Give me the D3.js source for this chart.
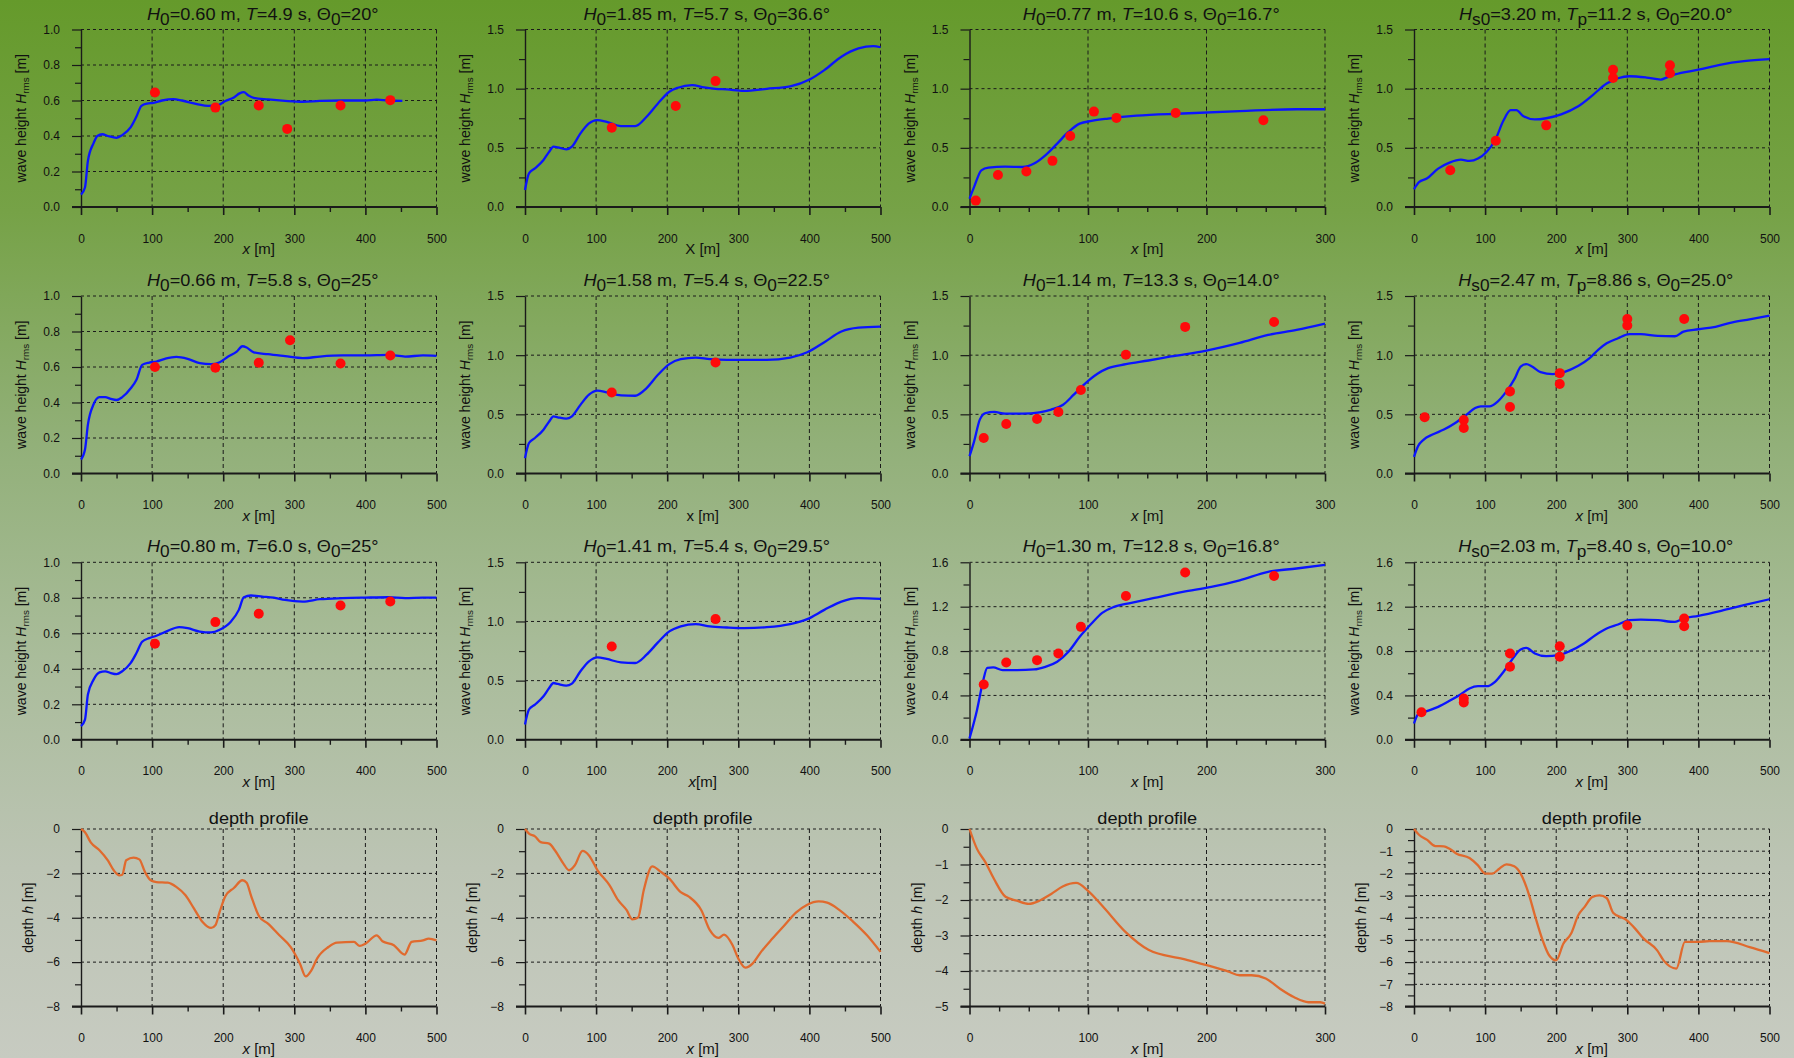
<!DOCTYPE html>
<html><head><meta charset="utf-8">
<script src="https://cdn.jsdelivr.net/npm/d3@7"></script>
<style>
body{margin:0;overflow:hidden;background:#fff}
svg text{font-family:"Liberation Sans",Arial,Helvetica,sans-serif;fill:#111}
</style>
</head><body>
<svg id="chart" width="1794" height="1058"></svg>
<script>
// ---------------- DATA ----------------
const titles = [
  "*H*_0_=0.60 m, *T*=4.9 s, Θ_0_=20°",
  "*H*_0_=1.85 m, *T*=5.7 s, Θ_0_=36.6°",
  "*H*_0_=0.77 m, *T*=10.6 s, Θ_0_=16.7°",
  "*H*_s0_=3.20 m, *T*_p_=11.2 s, Θ_0_=20.0°",
  "*H*_0_=0.66 m, *T*=5.8 s, Θ_0_=25°",
  "*H*_0_=1.58 m, *T*=5.4 s, Θ_0_=22.5°",
  "*H*_0_=1.14 m, *T*=13.3 s, Θ_0_=14.0°",
  "*H*_s0_=2.47 m, *T*_p_=8.86 s, Θ_0_=25.0°",
  "*H*_0_=0.80 m, *T*=6.0 s, Θ_0_=25°",
  "*H*_0_=1.41 m, *T*=5.4 s, Θ_0_=29.5°",
  "*H*_0_=1.30 m, *T*=12.8 s, Θ_0_=16.8°",
  "*H*_s0_=2.03 m, *T*_p_=8.40 s, Θ_0_=10.0°",
  "depth profile","depth profile","depth profile","depth profile"
];
const xLabels = ["*x* [m]","X [m]","*x* [m]","*x* [m]",
                 "*x* [m]","x [m]","*x* [m]","*x* [m]",
                 "*x* [m]","*x*[m]","*x* [m]","*x* [m]",
                 "*x* [m]","*x* [m]","*x* [m]","*x* [m]"];
const waveYLabel = "wave height *H*_rms_ [m]";
const depthYLabel = "depth  *h* [m]";

const xMax = [500,500,300,500, 500,500,300,500, 500,500,300,500, 500,500,300,500];
const yMax = [1.0,1.5,1.5,1.5, 1.0,1.5,1.5,1.5, 1.0,1.5,1.6,1.6];
const depthMin = [-8,-8,-5,-8];

const xTicks500 = [0,100,200,300,400,500];
const xTicks300 = [0,100,200,300];
const yTicks10 = [0,0.2,0.4,0.6,0.8,1.0];
const yTicks15 = [0,0.5,1.0,1.5];
const yTicks16 = [0,0.4,0.8,1.2,1.6];
const dTicks8 = [0,-2,-4,-6,-8];
const dTicks5 = [0,-1,-2,-3,-4,-5];
const dTicks8b = [0,-1,-2,-3,-4,-5,-6,-7,-8];

const hLine1 = [[0,0.07],[5.6,0.11],[9.7,0.26],[17.7,0.36],[23,0.40],[30,0.41],[38,0.40],[50,0.39],[58,0.405],[70,0.45],[78,0.51],[85,0.57],[93,0.583],[102,0.587],[114,0.60],[130,0.608],[142,0.60],[163,0.58],[179,0.57],[191,0.572],[203,0.597],[215,0.617],[223,0.64],[229,0.647],[235,0.63],[243,0.615],[263,0.606],[287,0.598],[312,0.593],[336,0.598],[368,0.60],[400,0.60],[416,0.605],[432,0.60],[452,0.598]];
const hObs1 = [[104,0.645],[189,0.56],[250,0.572],[290,0.44],[365,0.572],[435,0.602]];

const hLine2 = [[0,0.143],[5.6,0.284],[14,0.326],[26,0.397],[34,0.467],[40,0.51],[46,0.504],[58,0.487],[66,0.51],[78,0.622],[90,0.706],[101,0.735],[115,0.72],[135,0.684],[155,0.684],[171,0.763],[187,0.875],[203,0.974],[215,1.008],[235,1.03],[252,1.01],[268,0.999],[284,0.994],[308,0.982],[340,0.999],[373,1.02],[401,1.08],[421,1.157],[445,1.27],[469,1.34],[490,1.36],[500,1.35]];
const hObs2 = [[122,0.67],[212,0.853],[268,1.064]];

const hLine3 = [[0,0.07],[3.9,0.17],[10,0.31],[16,0.333],[30,0.341],[45,0.338],[54.5,0.367],[64,0.437],[74,0.536],[83.5,0.634],[93,0.705],[103,0.727],[117,0.747],[141,0.772],[180,0.79],[228,0.81],[276,0.826],[300,0.826]];
const hObs3 = [[5.3,0.054],[24,0.27],[48,0.30],[70,0.39],[85,0.60],[105,0.806],[124,0.753],[174,0.795],[248,0.733]];

const hLine4 = [[0,0.15],[7,0.21],[18,0.24],[34,0.324],[50,0.375],[66,0.40],[78,0.389],[90,0.409],[102,0.465],[114,0.564],[126,0.733],[136,0.818],[144,0.818],[154,0.767],[170,0.74],[186,0.75],[207,0.783],[231,0.851],[251,0.944],[271,1.043],[287,1.088],[303,1.105],[327,1.094],[347,1.077],[355,1.094],[367,1.12],[400,1.16],[432,1.204],[464,1.232],[500,1.249]];
const hObs4 = [[51,0.31],[115,0.56],[186,0.69],[280,1.16],[280,1.09],[360,1.198],[360,1.13]];

const hLine5 = [[0,0.079],[5.6,0.135],[9.7,0.275],[17.7,0.39],[26,0.43],[34,0.43],[42,0.42],[50,0.414],[58,0.43],[70,0.48],[78,0.528],[86,0.612],[96,0.625],[106,0.631],[118,0.646],[134,0.657],[150,0.646],[167,0.622],[183,0.616],[195,0.627],[207,0.659],[219,0.687],[227,0.717],[233,0.71],[243,0.683],[263,0.672],[287,0.661],[312,0.65],[336,0.659],[368,0.665],[400,0.665],[432,0.668],[456,0.659],[481,0.665],[500,0.663]];
const hObs5 = [[104,0.60],[189,0.596],[250,0.624],[294,0.751],[365,0.62],[435,0.665]];

const hLine6 = [[0,0.13],[5.6,0.258],[14,0.30],[26,0.37],[34,0.44],[40,0.483],[46,0.475],[58,0.463],[66,0.483],[78,0.58],[90,0.666],[102,0.70],[115,0.685],[135,0.66],[155,0.657],[171,0.722],[187,0.834],[203,0.924],[219,0.966],[240,0.98],[260,0.966],[284,0.96],[308,0.96],[340,0.96],[373,0.98],[397,1.025],[421,1.11],[445,1.2],[469,1.233],[500,1.242]];
const hObs6 = [[122,0.685],[268,0.938]];

const hLine7 = [[0,0.146],[3.9,0.272],[8.7,0.455],[13.5,0.511],[21,0.52],[30,0.506],[45,0.506],[59,0.517],[69,0.54],[79,0.581],[88,0.666],[98,0.764],[108,0.843],[117,0.89],[132,0.924],[151,0.955],[170,0.989],[199,1.037],[228,1.104],[252,1.171],[276,1.213],[300,1.267]];
const hObs7 = [[12,0.30],[31,0.419],[57,0.46],[75,0.52],[94,0.705],[132,1.003],[182,1.239],[257,1.281]];

const hLine8 = [[0,0.14],[5.6,0.23],[13.7,0.287],[26,0.329],[42,0.371],[58,0.427],[74,0.497],[86,0.553],[94,0.567],[106,0.567],[118,0.61],[130,0.694],[142,0.806],[150,0.904],[158,0.924],[166,0.904],[178,0.857],[195,0.84],[211,0.857],[231,0.91],[247,0.975],[259,1.045],[271,1.10],[287,1.143],[303,1.177],[319,1.177],[343,1.163],[367,1.16],[379,1.199],[400,1.219],[424,1.24],[448,1.278],[472,1.303],[500,1.334]];
const hObs8 = [[15,0.475],[70,0.452],[70,0.385],[135,0.694],[135,0.562],[205,0.848],[205,0.756],[300,1.306],[300,1.25],[380,1.306]];

const hLine9 = [[0,0.077],[5.6,0.114],[9.7,0.255],[17.7,0.339],[26,0.38],[34,0.386],[42,0.376],[50,0.37],[58,0.386],[70,0.433],[78,0.489],[86,0.552],[96,0.573],[106,0.586],[122,0.614],[138,0.635],[150,0.629],[167,0.61],[183,0.605],[195,0.62],[211,0.667],[222,0.732],[229,0.803],[239,0.813],[255,0.807],[271,0.801],[287,0.788],[312,0.779],[336,0.792],[368,0.798],[400,0.801],[432,0.803],[456,0.798],[481,0.801],[500,0.801]];
const hObs9 = [[104,0.541],[189,0.663],[250,0.71],[365,0.757],[435,0.779]];

const hLine10 = [[0,0.13],[5.6,0.256],[14,0.298],[26,0.368],[34,0.438],[40,0.48],[46,0.472],[58,0.458],[66,0.475],[78,0.579],[90,0.663],[102,0.697],[115,0.683],[135,0.654],[155,0.649],[171,0.719],[187,0.823],[203,0.916],[219,0.958],[240,0.978],[260,0.958],[284,0.949],[308,0.944],[340,0.952],[373,0.978],[397,1.02],[421,1.098],[445,1.168],[469,1.197],[500,1.191]];
const hObs10 = [[122,0.789],[268,1.02]];

const hLine11 = [[0,0.012],[6.3,0.267],[11,0.507],[15,0.649],[20,0.652],[28,0.628],[40,0.628],[54.5,0.634],[64,0.658],[74,0.703],[83.5,0.793],[93,0.928],[103,1.048],[112,1.144],[122,1.198],[136.5,1.234],[156,1.279],[180,1.333],[204,1.378],[228,1.438],[252,1.514],[276,1.544],[300,1.577]];
const hObs11 = [[12,0.498],[31,0.697],[57,0.718],[75,0.778],[94,1.018],[132,1.297],[182,1.508],[257,1.477]];

const hLine12 = [[0,0.147],[5.6,0.228],[18,0.258],[34,0.297],[50,0.351],[66,0.411],[78,0.462],[90,0.483],[102,0.483],[114,0.523],[126,0.613],[138,0.724],[150,0.814],[158,0.829],[170,0.778],[186,0.754],[203,0.763],[219,0.799],[239,0.868],[255,0.943],[271,1.003],[287,1.039],[303,1.078],[319,1.084],[343,1.078],[367,1.063],[379,1.093],[400,1.117],[432,1.162],[464,1.213],[500,1.267]];
const hObs12 = [[10.5,0.249],[70,0.372],[70,0.336],[135,0.778],[135,0.658],[205,0.844],[205,0.748],[300,1.03],[380,1.093],[380,1.024]];

const depth1 = [[0,0],[5.6,-0.15],[13.7,-0.6],[26,-0.96],[38,-1.43],[46,-1.86],[54,-2.09],[58,-2.06],[63.6,-1.41],[74,-1.29],[82,-1.37],[90,-1.94],[98,-2.31],[106,-2.39],[122,-2.42],[134,-2.61],[147,-2.99],[159,-3.59],[171,-4.19],[183,-4.46],[189,-4.34],[195,-3.74],[203,-3.03],[215,-2.66],[227,-2.31],[233,-2.42],[239,-2.99],[251,-3.96],[263,-4.26],[279,-4.79],[295,-5.32],[308,-6.07],[316,-6.64],[324,-6.37],[332,-5.84],[348,-5.32],[360,-5.12],[384,-5.09],[392,-5.27],[400,-5.17],[416,-4.79],[424,-5.06],[440,-5.24],[455,-5.66],[465,-5.09],[481,-5.02],[489,-4.94],[500,-5.02]];
const depth2 = [[0,0],[5.6,-0.21],[14,-0.33],[22,-0.59],[34,-0.66],[42,-0.96],[54,-1.56],[62,-1.86],[70,-1.64],[81,-0.99],[90,-1.19],[102,-1.86],[119,-2.54],[131,-3.21],[143,-3.66],[151,-4.07],[159,-3.99],[167,-2.76],[179,-1.68],[191,-1.93],[203,-2.24],[219,-2.85],[231,-3.06],[248,-3.66],[260,-4.56],[272,-4.91],[280,-4.76],[292,-5.24],[300,-5.84],[310,-6.25],[320,-6.07],[332,-5.54],[348,-4.94],[365,-4.34],[381,-3.77],[397,-3.41],[413,-3.26],[425,-3.32],[441,-3.62],[461,-4.16],[481,-4.79],[500,-5.54]];
const depth3 = [[0,0],[6.3,-0.56],[13.5,-0.94],[20.7,-1.41],[30.4,-1.91],[40,-2.02],[50,-2.11],[59,-2.02],[69,-1.83],[78.6,-1.62],[90,-1.52],[100,-1.74],[112,-2.16],[132,-2.91],[151,-3.4],[180,-3.66],[209,-3.92],[218,-4.01],[228,-4.12],[238,-4.12],[250,-4.21],[262,-4.5],[274,-4.74],[286,-4.88],[296,-4.88],[300,-4.92]];
const depth4 = [[0,0],[7,-0.26],[18,-0.48],[30,-0.77],[42,-0.78],[50,-0.89],[60,-1.11],[78,-1.31],[90,-1.64],[100,-2.01],[110,-2.01],[120,-1.79],[130,-1.59],[141,-1.68],[150,-2.01],[162,-2.99],[170,-3.89],[181,-5.02],[190,-5.69],[200,-5.92],[210,-5.17],[221,-4.71],[231,-3.89],[240,-3.51],[251,-3.06],[261,-2.99],[271,-3.11],[280,-3.77],[299,-4.11],[311,-4.49],[323,-4.94],[342,-5.47],[351,-5.92],[369,-6.29],[381,-5.09],[400,-5.09],[416,-5.05],[440,-5.05],[472,-5.32],[500,-5.59]];

const waveLines = [hLine1,hLine2,hLine3,hLine4,hLine5,hLine6,hLine7,hLine8,hLine9,hLine10,hLine11,hLine12];
const waveObs = [hObs1,hObs2,hObs3,hObs4,hObs5,hObs6,hObs7,hObs8,hObs9,hObs10,hObs11,hObs12];
const depthLines = [depth1,depth2,depth3,depth4];

// ---------------- LAYOUT ----------------
const W = 1794, H = 1058;
const colLeft = [81, 525, 969.5, 1414];
const rowTop = [29.5, 296, 562.3, 829];
const PW = 355.5, PH = 177.5;
const INK = "#1a1a1a";

const svg = d3.select("#chart");
const defs = svg.append("defs");
const lg = defs.append("linearGradient").attr("id","bg").attr("x1",0).attr("y1",0).attr("x2",0).attr("y2",1);
[[0,"#659a2b"],[0.2,"#76a247"],[0.42,"#92b079"],[0.62,"#a9bc9a"],[0.82,"#bcc4b4"],[1,"#c7cbc1"]]
  .forEach(([o,c]) => lg.append("stop").attr("offset",o).attr("stop-color",c));
svg.append("rect").attr("width",W).attr("height",H).attr("fill","url(#bg)");

// mini rich text: *italic*, _subscript_
function rich(textSel, str, subScale, subShift){
  const parts = str.match(/(\*[^*]+\*|_[^_]+_|[^*_]+)/g);
  let shifted = 0;
  parts.forEach(t => {
    const ts = textSel.append("tspan");
    if (t[0] === "*") {
      ts.text(t.slice(1,-1)).attr("font-style","italic");
      if (shifted) { ts.attr("dy", -shifted); shifted = 0; }
    } else if (t[0] === "_") {
      ts.text(t.slice(1,-1)).attr("font-size", subScale + "em").attr("dy", subShift);
      shifted = subShift;
    } else {
      ts.text(t);
      if (shifted) { ts.attr("dy", -shifted); shifted = 0; }
    }
  });
}

function minorVals(lo, hi, step, majors){
  const out = [];
  for (let v = lo; v <= hi + 1e-9; v += step) {
    const r = Math.round(v*1000)/1000;
    if (!majors.some(m => Math.abs(m - r) < 1e-6)) out.push(r);
  }
  return out;
}

function drawPanel(i, cfg){
  const row = Math.floor(i/4), col = i % 4;
  const left = colLeft[col], top = rowTop[row];
  const g = svg.append("g").attr("transform", `translate(${left},${top})`);
  const x = d3.scaleLinear().domain([0, cfg.xMax]).range([0, PW]);
  const y = d3.scaleLinear().domain(cfg.yDomain).range([PH, 0]);

  // grid
  g.append("g").selectAll("line").data(cfg.yTicks.filter(v => v !== cfg.yDomain[0])).join("line")
    .attr("x1",0).attr("x2",PW).attr("y1",d=>y(d)).attr("y2",d=>y(d))
    .attr("stroke",INK).attr("stroke-width",1).attr("stroke-dasharray","3,3");
  g.append("g").selectAll("line").data(cfg.xTicks.filter(v => v !== 0)).join("line")
    .attr("y1",0).attr("y2",PH).attr("x1",d=>x(d)).attr("x2",d=>x(d))
    .attr("stroke",INK).attr("stroke-width",1).attr("stroke-dasharray","4,3");

  // y axis
  const ya = g.append("g").attr("class","yaxis")
    .call(d3.axisLeft(y).tickValues(cfg.yTicks).tickSize(9).tickPadding(12).tickSizeOuter(0).tickFormat(cfg.yFmt));
  ya.select(".domain").attr("stroke",INK).attr("stroke-width",1.4);
  ya.selectAll(".tick line").attr("stroke",INK).attr("stroke-width",1.2);
  ya.selectAll(".tick text").attr("font-size",12).attr("fill","#111").attr("font-family","Liberation Sans, Arial, sans-serif");
  const yam = g.append("g")
    .call(d3.axisLeft(y).tickValues(minorVals(cfg.yDomain[0], cfg.yDomain[1], cfg.yMinor, cfg.yTicks)).tickSize(6).tickSizeOuter(0).tickFormat(""));
  yam.select(".domain").remove();
  yam.selectAll(".tick line").attr("stroke",INK).attr("stroke-width",1.2);

  // x axis
  const xa = g.append("g").attr("transform",`translate(0,${PH})`)
    .call(d3.axisBottom(x).tickValues(cfg.xTicks).tickSize(8).tickPadding(19).tickSizeOuter(0).tickFormat(d3.format("d")));
  xa.select(".domain").remove();
  xa.selectAll(".tick line").attr("stroke",INK).attr("stroke-width",1.6);
  xa.selectAll(".tick text").attr("font-size",12).attr("fill","#111").attr("font-family","Liberation Sans, Arial, sans-serif");
  const xam = g.append("g").attr("transform",`translate(0,${PH})`)
    .call(d3.axisBottom(x).tickValues(minorVals(0, cfg.xMax, cfg.xMinor, cfg.xTicks)).tickSize(5).tickSizeOuter(0).tickFormat(""));
  xam.select(".domain").remove();
  xam.selectAll(".tick line").attr("stroke",INK).attr("stroke-width",1.4);
  g.append("line").attr("x1",-9).attr("x2",PW).attr("y1",PH).attr("y2",PH)
    .attr("stroke",INK).attr("stroke-width",2);

  // data
  const line = d3.line().x(d=>x(d[0])).y(d=>y(d[1])).curve(d3.curveMonotoneX);
  g.append("path").datum(cfg.line).attr("d",line).attr("fill","none")
    .attr("stroke",cfg.color).attr("stroke-width",2.3).attr("stroke-linejoin","round");
  if (cfg.obs) {
    g.append("g").selectAll("circle").data(cfg.obs).join("circle")
      .attr("cx",d=>x(d[0])).attr("cy",d=>y(d[1])).attr("r",5).attr("fill","#ff0a0a");
  }

  // title
  const tt = g.append("text")
    .attr("transform", `translate(${PW/2 + (cfg.depth ? 0 : 4)},${cfg.depth ? -5 : -10}) scale(1.1,1)`)
    .attr("text-anchor","middle").attr("font-size",16.5);
  rich(tt, titles[i], 0.95, 5);

  // x label
  const xl = g.append("text").attr("x", PW/2).attr("y", PH + 47)
    .attr("text-anchor","middle").attr("font-size",15);
  rich(xl, xLabels[i], 0.9, 3);

  // y label
  const yl = g.append("text")
    .attr("transform", `translate(${cfg.depth ? -48 : -55},${PH/2}) rotate(-90)`)
    .attr("text-anchor","middle").attr("font-size",14);
  rich(yl, cfg.depth ? depthYLabel : waveYLabel, 0.7, 3);
}

const f1 = d3.format(".1f");
const yTickSets = {1.0:[yTicks10,0.1], 1.5:[yTicks15,0.25], 1.6:[yTicks16,0.2]};
for (let i = 0; i < 12; i++) {
  const [ticks, minor] = yTickSets[yMax[i]];
  drawPanel(i, {
    xMax: xMax[i], xTicks: xMax[i] === 300 ? xTicks300 : xTicks500, xMinor: xMax[i] === 300 ? 25 : 50,
    yDomain: [0, yMax[i]], yTicks: ticks, yMinor: minor, yFmt: f1,
    line: waveLines[i], obs: waveObs[i], color: "#0a14ff", depth: false
  });
}
const dTickSets = [[dTicks8,1],[dTicks8,1],[dTicks5,0.5],[dTicks8b,0.5]];
for (let k = 0; k < 4; k++) {
  const i = 12 + k;
  drawPanel(i, {
    xMax: xMax[i], xTicks: xMax[i] === 300 ? xTicks300 : xTicks500, xMinor: xMax[i] === 300 ? 25 : 50,
    yDomain: [depthMin[k], 0], yTicks: dTickSets[k][0], yMinor: dTickSets[k][1], yFmt: d3.format("d"),
    line: depthLines[k], obs: null, color: "#e06a2e", depth: true
  });
}
</script>
</body></html>
